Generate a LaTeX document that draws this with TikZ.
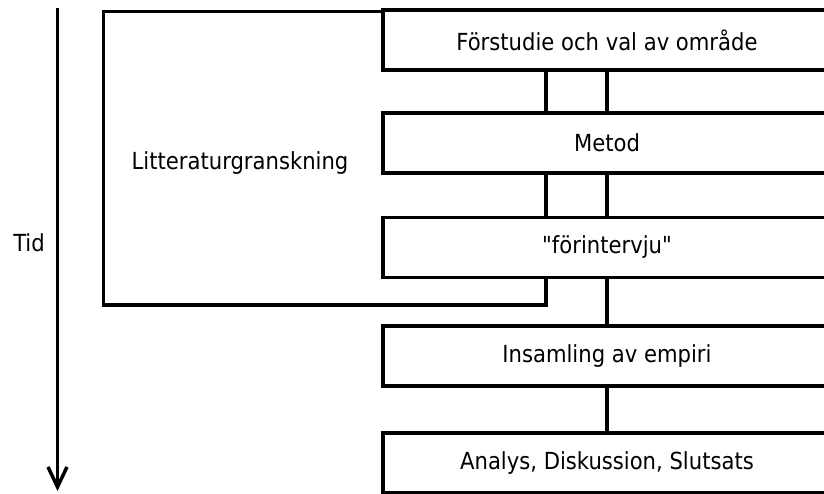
\documentclass[tikz,border=0pt]{standalone}
\usepackage{fontspec}
\setmainfont{DejaVu Sans Condensed}[Ligatures=TeXOff]
\usetikzlibrary{arrows.meta}
\begin{document}
\begin{tikzpicture}[x=1pt,y=-1pt,
  line width=3.5pt,
  txt/.style={inner sep=0pt, font=\fontsize{23.5}{28}\selectfont},
  stage/.style={draw, fill=white, minimum width=448pt, minimum height=60pt, inner sep=0pt, font=\fontsize{23.5}{28}\selectfont},
  link/.style={draw, line width=3.5pt}]
\useasboundingbox (0,0) rectangle (824,494);
\clip (0,0) rectangle (824,494);
\fill[white] (0,0) rectangle (824,494);
% literature review box
\node[draw, anchor=north west, minimum width=442.5pt, minimum height=293pt, inner sep=0pt] (lit) at (101.5,10) {};
\node[txt] (littxt) at (240,163) {Litteraturgranskning};
% stages
\node[stage] (fs) at (607,40) {Förstudie och val av område};
\node[stage] (met) at (607,143) {Metod};
\node[stage] (fi) at (607,247.5) {"förintervju"};
\node[stage] (ins) at (607,356) {Insamling av empiri};
\node[stage] (ana) at (607,463) {Analys, Diskussion, Slutsats};
% connectors
\draw[link] (fs.south) -- (met.north);
\draw[link] (met.south) -- (fi.north);
\draw[link] (fi.south) -- (ins.north);
\draw[link] (ins.south) -- (ana.north);
% time axis
\coordinate (t0) at (57.5,8);
\coordinate (t1) at (57.5,491);
\draw[-{Straight Barb[length=20pt,width=19pt]}, line width=3.5pt] (t0) -- (t1);
\node[txt] (tid) at (29,243) {Tid};
\end{tikzpicture}
\end{document}
